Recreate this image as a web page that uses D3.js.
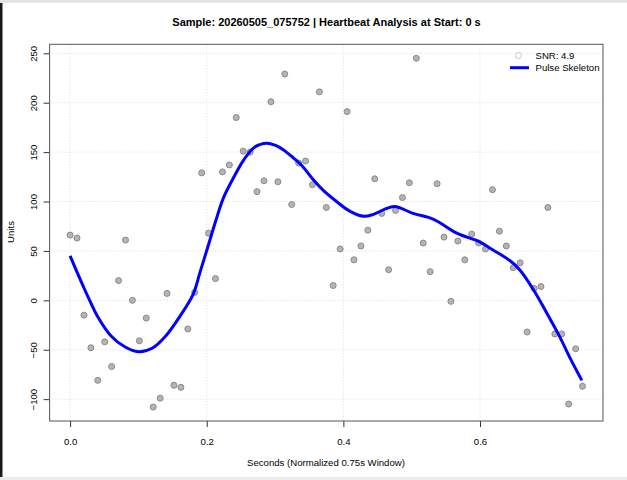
<!DOCTYPE html>
<html><head><meta charset="utf-8">
<script src="https://cdn.jsdelivr.net/npm/d3@7"></script>
<style>body{margin:0;background:#fff;} svg{display:block;font-family:"Liberation Sans",Arial,Helvetica,sans-serif;}</style>
</head><body>
<svg id="c" width="627" height="480"></svg>
<script>
// ---- data ----
const sampleTimes = [0,0.0101,0.0203,0.0304,0.0405,0.0507,0.0608,0.0709,0.0811,0.0912,
0.1014,0.1115,0.1216,0.1318,0.1419,0.1520,0.1622,0.1723,0.1824,0.1926,
0.2027,0.2128,0.2230,0.2331,0.2432,0.2534,0.2635,0.2736,0.2838,0.2939,
0.3041,0.3142,0.3243,0.3345,0.3446,0.3547,0.3649,0.3750,0.3851,0.3953,
0.4054,0.4155,0.4257,0.4358,0.4459,0.4561,0.4662,0.4764,0.4865,0.4966,
0.5068,0.5169,0.5270,0.5372,0.5473,0.5574,0.5676,0.5777,0.5878,0.5980,
0.6081,0.6182,0.6284,0.6385,0.6486,0.6588,0.6689,0.6791,0.6892,0.6993,
0.7095,0.7196,0.7297,0.7399,0.7500];
const sampleValues = [66,63,-15,-48,-81,-42,-67,20,61,0,
-41,-18,-108,-99,7,-86,-88,-29,8,129,
68,22,130,137,185,151,150,110,121,201,
120,229,97,139,141,117,211,94,15,52,
191,41,55,71,123,88,31,91,104,119,
245,58,29,118,64,-1,60,41,67,58,
52,112,70,55,33,38,-32,12,14,94,
-34,-34,-105,-49,-87];
const skeletonX = [0,0.02,0.03,0.04,0.06,0.08,0.10,0.12,0.14,0.16,0.18,0.19,0.202,0.213,0.224,0.236,0.254,0.27,0.288,0.30,0.313,0.327,0.341,0.356,0.371,0.39,0.41,0.43,0.444,0.46,0.475,0.502,0.532,0.566,0.60,0.619,0.644,0.658,0.678,0.697,0.716,0.733,0.749];
const skeletonY = [45,13,-2,-16,-36,-47,-52,-48.5,-36,-17,6,28,55,80,103,120,142,155,159,157,152,144,135,122,111,100,90,85,87,92,95,88,82,68,59,51,40,31,11,-12,-36,-60,-81];
const xTicks = [0,0.2,0.4,0.6];
const xTickLabels = ["0.0","0.2","0.4","0.6"];
const yTicks = [-100,-50,0,50,100,150,200,250];
const titleText = "Sample: 20260505_075752 | Heartbeat Analysis at Start: 0 s";
const xLabel = "Seconds (Normalized 0.75s Window)";
const yLabel = "Units";
const legendLabels = ["SNR: 4.9","Pulse Skeleton"];

// ---- layout ----
const svg = d3.select("#c");
const L = 49.6, R = 603, T = 44.3, B = 421;
const FS = "9.6px";
function pad(ext){const r=ext[1]-ext[0];return [ext[0]-0.04*r, ext[1]+0.04*r];}
const x = d3.scaleLinear().domain(pad([0,0.75])).range([L,R]);
const y = d3.scaleLinear().domain(pad(d3.extent(sampleValues))).range([B,T]);

// window frame artifacts
svg.append("rect").attr("x",0).attr("y",0).attr("width",627).attr("height",3).attr("fill","#e4e4e4");
svg.append("rect").attr("x",0).attr("y",3).attr("width",2.5).attr("height",477).attr("fill","#1a1a1a");
svg.append("rect").attr("x",0).attr("y",477).attr("width",627).attr("height",3).attr("fill","#ececec");

// grid
const g = svg.append("g");
g.selectAll(".gx").data(xTicks).enter().append("line")
 .attr("x1",d=>x(d)).attr("x2",d=>x(d)).attr("y1",T).attr("y2",B)
 .attr("stroke","#dcdcdc").attr("stroke-dasharray","1,2");
g.selectAll(".gy").data(yTicks).enter().append("line")
 .attr("y1",d=>y(d)).attr("y2",d=>y(d)).attr("x1",L).attr("x2",R)
 .attr("stroke","#dcdcdc").attr("stroke-dasharray","1,2");

// axes
const xAxis = d3.axisBottom(x).tickValues(xTicks).tickFormat((d,i)=>xTickLabels[i]).tickSize(6).tickPadding(11);
const yAxis = d3.axisLeft(y).tickValues(yTicks).tickSize(6);
const gx = svg.append("g").attr("transform",`translate(0,${B})`).call(xAxis);
gx.select(".domain").remove();
gx.selectAll("line").attr("stroke","#333");
gx.selectAll("text").attr("font-size",FS).attr("fill","#000").attr("font-family","Liberation Sans, Arial, sans-serif");
const gy = svg.append("g").attr("transform",`translate(${L},0)`).call(yAxis);
gy.select(".domain").remove();
gy.selectAll("line").attr("stroke","#333");
gy.selectAll("text").attr("font-size",FS).attr("fill","#000").attr("font-family","Liberation Sans, Arial, sans-serif")
  .attr("text-anchor","middle").attr("dy",null).attr("x",null)
  .attr("transform",d=>`translate(-12.5,0) rotate(-90)`).attr("y",0);

// box
svg.append("rect").attr("x",L).attr("y",T).attr("width",R-L).attr("height",B-T)
 .attr("fill","none").attr("stroke","#555").attr("stroke-width",1);

// points
svg.append("g").selectAll("circle").data(sampleValues).enter().append("circle")
 .attr("cx",(d,i)=>x(sampleTimes[i])).attr("cy",d=>y(d)).attr("r",3)
 .attr("fill","#b4b4b4").attr("stroke","#8a8a8a").attr("stroke-width",1);

// skeleton line
const line = d3.line().x(d=>x(d[0])).y(d=>y(d[1])).curve(d3.curveCatmullRom.alpha(0.5));
svg.append("path").datum(skeletonX.map((v,i)=>[v,skeletonY[i]]))
 .attr("d",line).attr("fill","none").attr("stroke","#0000ff").attr("stroke-width",3);

// title & labels
svg.append("text").attr("x",326.5).attr("y",25.5).attr("text-anchor","middle")
 .attr("font-size","11px").attr("font-weight","bold").text(titleText);
svg.append("text").attr("x",326).attr("y",465.5).attr("text-anchor","middle")
 .attr("font-size",FS).text(xLabel);
svg.append("text").attr("transform","translate(13.5,232) rotate(-90)").attr("text-anchor","middle")
 .attr("font-size",FS).text(yLabel);

// legend
svg.append("circle").attr("cx",518.5).attr("cy",55.5).attr("r",3)
 .attr("fill","none").attr("stroke","#c8c8c8").attr("stroke-width",1);
svg.append("line").attr("x1",510).attr("x2",529).attr("y1",67.7).attr("y2",67.7)
 .attr("stroke","#0000ff").attr("stroke-width",3);
svg.append("text").attr("x",535.5).attr("y",59).attr("font-size",FS).text(legendLabels[0]);
svg.append("text").attr("x",535.5).attr("y",71.2).attr("font-size",FS).text(legendLabels[1]);
</script>
</body></html>
